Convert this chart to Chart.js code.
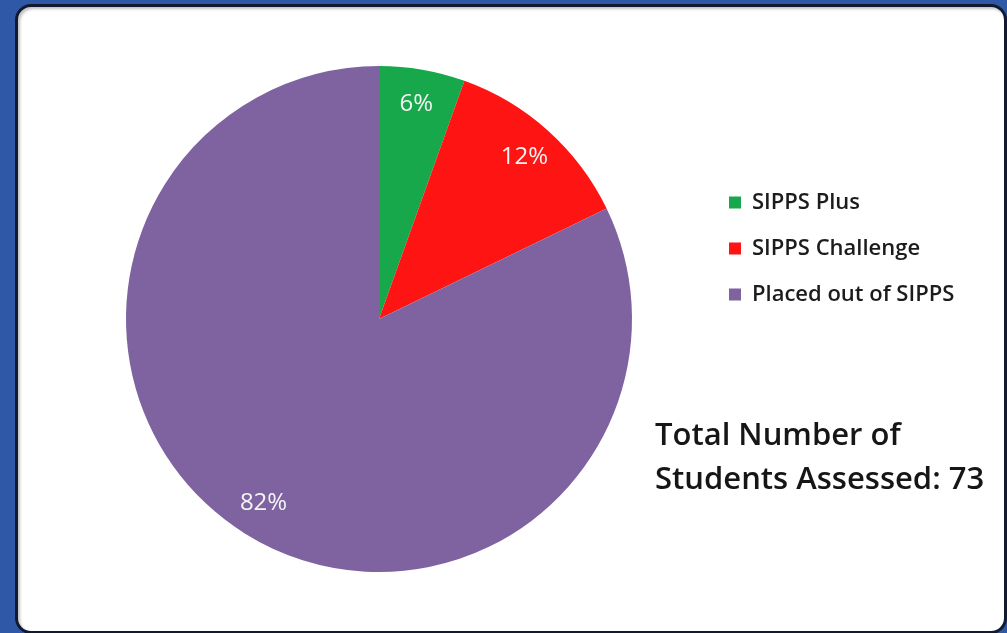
<!DOCTYPE html>
<html>
<head>
<meta charset="utf-8">
<script src="https://cdn.jsdelivr.net/npm/chart.js@4.4.1/dist/chart.umd.min.js"></script>
<style>
  html, body { margin: 0; padding: 0; }
  body { width: 1007px; height: 633px; background: #2f58a6; position: relative; overflow: hidden; }
  #panel {
    position: absolute; left: 15px; top: 4px; width: 986px; height: 624px;
    background: #fff; border: 3px solid #121a30; border-radius: 16px;
    box-shadow: inset 2px 2px 3px rgba(0,0,0,0.25);
  }
  #wrap { position: absolute; left: 0; top: 0; width: 1007px; height: 633px; }
  #total {
    position: absolute; left: 655px; top: 411px;
    font-family: "Open Sans", sans-serif; font-size: 31px; font-weight: 600;
    line-height: 44px; color: #161616;
  }
</style>
</head>
<body>
<div id="panel"></div>
<div id="wrap"><canvas id="sippsPie"></canvas></div>
<div id="total">Total Number of<br>Students Assessed: 73</div>
<script>
const categories = ["SIPPS Plus", "SIPPS Challenge", "Placed out of SIPPS"];
const students = [4, 9, 60];
const pctLabels = ["6%", "12%", "82%"];
const colors = ["#17a84b", "#ff1414", "#7f63a1"];

const legendFont = { family: "'Open Sans', sans-serif", size: 22, weight: "600" };
const legendBox = 12;
const legendGap = 24;

// ancho de la leyenda, para que el pastel quede centrado donde debe
const measure = document.createElement("canvas").getContext("2d");
measure.font = `${legendFont.weight} ${legendFont.size}px ${legendFont.family}`;
const longest = Math.max(...categories.map(c => measure.measureText(c).width));
const legendWidth = legendGap + legendBox + legendFont.size / 2 + longest + 10;
const legendLeft = 729 - legendGap;

// etiquetas de porcentaje dentro de cada porción
const sliceLabels = {
  id: "sliceLabels",
  afterDatasetsDraw(chart) {
    const ctx = chart.ctx;
    const meta = chart.getDatasetMeta(0);
    ctx.save();
    ctx.font = "500 24px 'Open Sans', sans-serif";
    ctx.fillStyle = "#f4f4f4";
    ctx.textAlign = "center";
    ctx.textBaseline = "middle";
    meta.data.forEach((arc, i) => {
      const p = arc.getProps(["x", "y", "startAngle", "endAngle", "outerRadius"], true);
      const mid = (p.startAngle + p.endAngle) / 2;
      const r = p.outerRadius * 0.86;
      ctx.fillText(pctLabels[i], p.x + Math.cos(mid) * r, p.y + Math.sin(mid) * r);
    });
    ctx.restore();
  }
};

const ctx = document.getElementById("sippsPie").getContext("2d");
new Chart(ctx, {
  type: "pie",
  data: {
    labels: categories,
    datasets: [{
      data: students,
      backgroundColor: colors,
      borderWidth: 0
    }]
  },
  options: {
    responsive: true,
    maintainAspectRatio: false,
    animation: false,
    layout: {
      padding: {
        left: 2 * 379 - legendLeft,
        right: Math.max(1007 - legendLeft - legendWidth, 0),
        top: 66,
        bottom: 61
      }
    },
    plugins: {
      legend: {
        position: "right",
        align: "start",
        title: { display: true, text: "", padding: { top: 0, bottom: 87 }, font: { size: 12 } },
        labels: {
          boxWidth: legendBox,
          boxHeight: legendBox,
          padding: legendGap,
          color: "#1c1c1c",
          font: legendFont
        }
      },
      tooltip: { enabled: false }
    }
  },
  plugins: [sliceLabels]
});
</script>
</body>
</html>
